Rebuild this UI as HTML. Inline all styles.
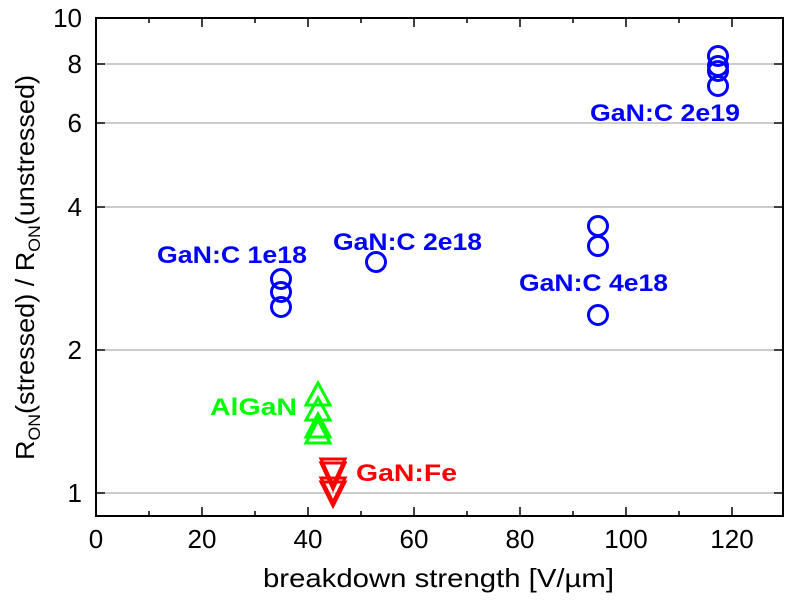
<!DOCTYPE html>
<html><head><meta charset="utf-8"><style>body{margin:0;background:#fff}svg{display:block}</style></head><body>
<svg width="800" height="600" xmlns="http://www.w3.org/2000/svg" font-family="Liberation Sans, Arial, sans-serif">
<g stroke="#999" stroke-width="1">
<line x1="96" x2="783" y1="64" y2="64"/><line x1="96" x2="783" y1="123" y2="123"/>
<line x1="96" x2="783" y1="207" y2="207"/><line x1="96" x2="783" y1="350" y2="350"/>
<line x1="96" x2="783" y1="493" y2="493"/>
</g>
<rect x="96" y="18" width="687" height="498" fill="none" stroke="#000" stroke-width="2"/>
<g stroke="#000" stroke-width="1.5">
<line x1="149" x2="149" y1="516" y2="511"/><line x1="202" x2="202" y1="516" y2="507"/>
<line x1="255" x2="255" y1="516" y2="511"/><line x1="308" x2="308" y1="516" y2="507"/>
<line x1="361" x2="361" y1="516" y2="511"/><line x1="414" x2="414" y1="516" y2="507"/>
<line x1="467" x2="467" y1="516" y2="511"/><line x1="520" x2="520" y1="516" y2="507"/>
<line x1="573" x2="573" y1="516" y2="511"/><line x1="626" x2="626" y1="516" y2="507"/>
<line x1="679" x2="679" y1="516" y2="511"/><line x1="732" x2="732" y1="516" y2="507"/>
<line x1="149" x2="149" y1="18" y2="23"/><line x1="202" x2="202" y1="18" y2="27"/>
<line x1="255" x2="255" y1="18" y2="23"/><line x1="308" x2="308" y1="18" y2="27"/>
<line x1="361" x2="361" y1="18" y2="23"/><line x1="414" x2="414" y1="18" y2="27"/>
<line x1="467" x2="467" y1="18" y2="23"/><line x1="520" x2="520" y1="18" y2="27"/>
<line x1="573" x2="573" y1="18" y2="23"/><line x1="626" x2="626" y1="18" y2="27"/>
<line x1="679" x2="679" y1="18" y2="23"/><line x1="732" x2="732" y1="18" y2="27"/>
<line x1="96" x2="105" y1="493" y2="493"/><line x1="96" x2="105" y1="350" y2="350"/>
<line x1="96" x2="105" y1="207" y2="207"/><line x1="96" x2="105" y1="123" y2="123"/><line x1="96" x2="105" y1="64" y2="64"/>
<line x1="783" x2="774" y1="493" y2="493"/><line x1="783" x2="774" y1="350" y2="350"/>
<line x1="783" x2="774" y1="207" y2="207"/><line x1="783" x2="774" y1="123" y2="123"/><line x1="783" x2="774" y1="64" y2="64"/>
</g>
<g font-size="26" fill="#000" text-anchor="middle">
<text x="96" y="548">0</text><text x="202" y="548">20</text><text x="308" y="548">40</text>
<text x="414" y="548">60</text><text x="520" y="548">80</text><text x="626" y="548">100</text><text x="732" y="548">120</text>
</g>
<g font-size="26" fill="#000" text-anchor="end">
<text x="82" y="502">1</text><text x="82" y="359">2</text><text x="82" y="216">4</text>
<text x="82" y="132">6</text><text x="82" y="73">8</text><text x="82" y="27">10</text>
</g>
<text x="263" y="587" font-size="26" textLength="351" lengthAdjust="spacingAndGlyphs">breakdown strength [V/µm]</text>
<text transform="translate(34,460) rotate(-90)" font-size="26" textLength="385" lengthAdjust="spacingAndGlyphs">R<tspan font-size="17" dy="6">ON</tspan><tspan dy="-6">(stressed) / R</tspan><tspan font-size="17" dy="6">ON</tspan><tspan dy="-6">(unstressed)</tspan></text>
<g fill="none" stroke="#00f" stroke-width="3">
<circle cx="281" cy="279" r="9.5"/><circle cx="281" cy="292" r="9.5"/><circle cx="281" cy="307" r="9.5"/>
<circle cx="376" cy="262" r="9.5"/>
<circle cx="598" cy="226" r="9.5"/><circle cx="598" cy="246" r="9.5"/><circle cx="598" cy="315" r="9.5"/>
<circle cx="718" cy="56" r="9.5"/><circle cx="718" cy="66" r="9.5"/><circle cx="718" cy="71" r="9.5"/><circle cx="718" cy="86" r="9.5"/>
</g>
<g fill="none" stroke="#0f0" stroke-width="3">
<polygon points="318,383 306,405 330,405"/><polygon points="318,398 306,420 330,420"/>
<polygon points="318,414 306,437 330,437"/><polygon points="318,420 306,443 330,443"/>
</g>
<g fill="none" stroke="#f00" stroke-width="3">
<polygon points="333,485 321,459 345,459"/><polygon points="333,489 321,463 345,463"/>
<polygon points="333,502 321,478 345,478"/><polygon points="333,506 321,482 345,482"/>
</g>
<g font-size="24" font-weight="bold">
<text x="157" y="263" fill="#00f" textLength="150" lengthAdjust="spacingAndGlyphs">GaN:C 1e18</text>
<text x="333" y="250" fill="#00f" textLength="149" lengthAdjust="spacingAndGlyphs">GaN:C 2e18</text>
<text x="519" y="291" fill="#00f" textLength="149" lengthAdjust="spacingAndGlyphs">GaN:C 4e18</text>
<text x="590" y="121" fill="#00f" textLength="150" lengthAdjust="spacingAndGlyphs">GaN:C 2e19</text>
<text x="210" y="415" fill="#0f0" textLength="87" lengthAdjust="spacingAndGlyphs">AlGaN</text>
<text x="356" y="481" fill="#f00" textLength="101" lengthAdjust="spacingAndGlyphs">GaN:Fe</text>
</g>
</svg>
</body></html>
